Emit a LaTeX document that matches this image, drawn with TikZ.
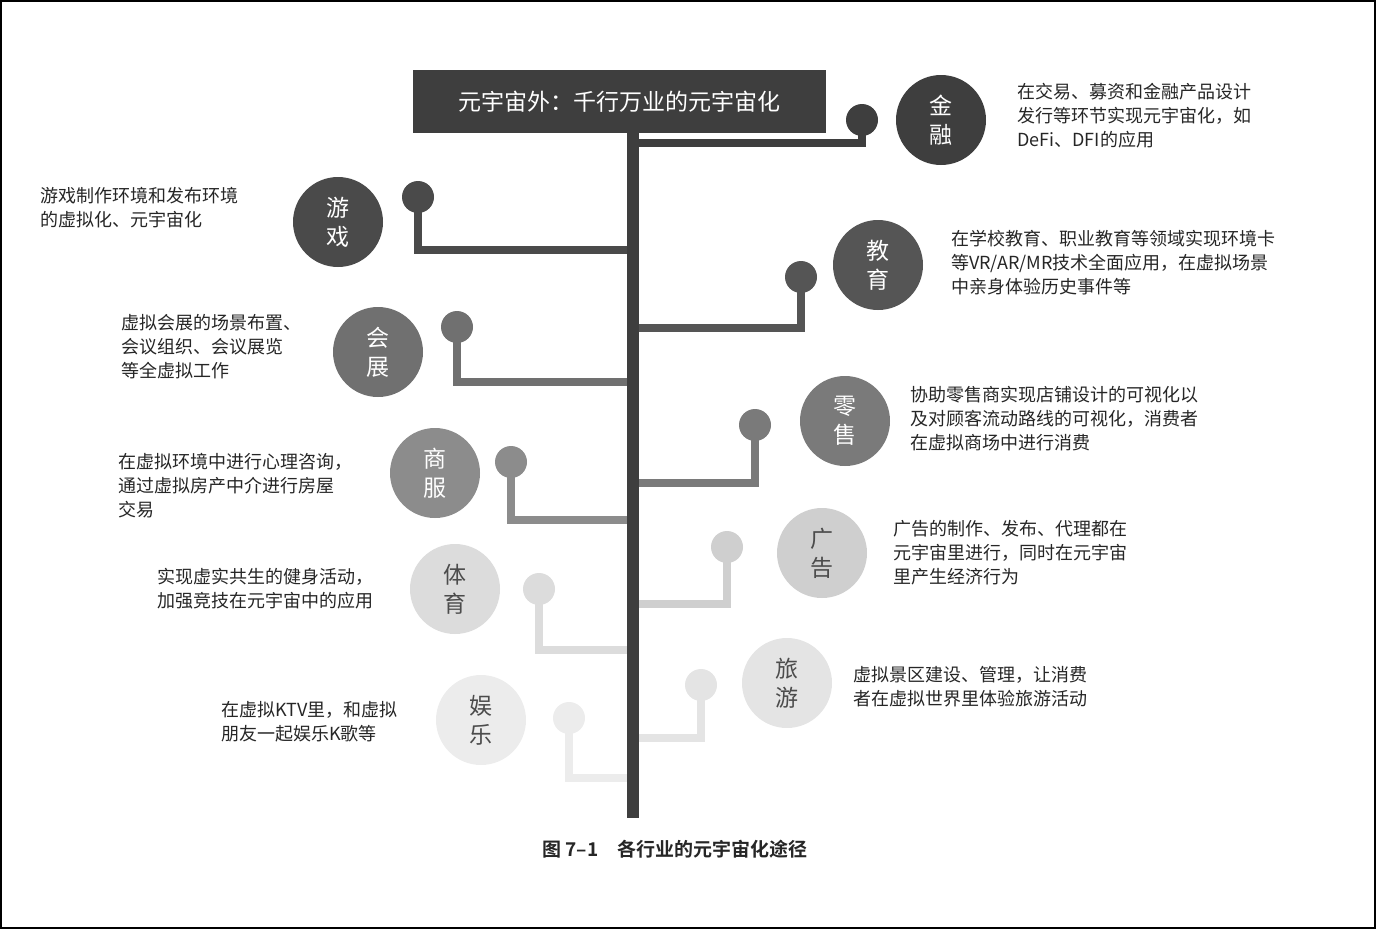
\documentclass[tikz,border=0pt]{standalone}
\usepackage{fontspec}
\setmainfont{Noto Sans CJK SC}
\newfontfamily\cjkb{Noto Sans CJK SC}[BoldFont={* Bold}]
\begin{document}
\begin{tikzpicture}[x=1pt,y=-1pt,
  desc/.style={anchor=west,align=left,font=\fontsize{18}{24}\selectfont,text=black!85,inner sep=0},
  circ/.style={circle,minimum size=90pt,inner sep=0,align=center,font=\fontsize{23}{29}\selectfont},
  dot/.style={circle,minimum size=32pt,inner sep=0},
  br/.style={line width=8pt}]
\useasboundingbox (0,0) rectangle (1376,929);
\draw[line width=2pt] (1,1) rectangle (1375,928);
\definecolor{c1}{HTML}{3E3E3E}\definecolor{c2}{HTML}{4A4A4A}\definecolor{c3}{HTML}{555555}
\definecolor{c4}{HTML}{707070}\definecolor{c5}{HTML}{7A7A7A}\definecolor{c6}{HTML}{8C8C8C}
\definecolor{c7}{HTML}{CFCFCF}\definecolor{c8}{HTML}{DCDCDC}\definecolor{c9}{HTML}{E4E4E4}\definecolor{c10}{HTML}{ECECEC}
\coordinate (top) at (633,133); \coordinate (bot) at (633,818);
\foreach \name/\cx/\cy/\dx/\dy/\ly/\col/\tc/\lab in {
 jr/941/120/862/120/143/c1/white/金\\融,
 yx/338/222/418/197/250/c2/white/游\\戏,
 jy/878/265/801/277/328/c3/white/教\\育,
 hz/378/352/457/327/382/c4/white/会\\展,
 ls/845/421/755/425/483/c5/white/零\\售,
 sf/435/473/511/462/520/c6/white/商\\服,
 gg/822/553/727/547/604/c7/black!70/广\\告,
 ty/455/589/539/589/650/c8/black!70/体\\育,
 ly/787/683/701/685/738/c9/black!70/旅\\游,
 yl/481/720/569/718/778/c10/black!70/娱\\乐}{
 \node[circ,fill=\col,text=\tc] (\name) at (\cx,\cy) {\lab};
 \coordinate (\name j) at (633,\ly);
 \draw[br,\col] (\dx,\dy) |- (\name j);
 \node[dot,fill=\col] (\name d) at (\dx,\dy) {};
}
\draw[line width=12pt,c1] (top) -- (bot);
\node[fill=c1,minimum width=413pt,minimum height=63pt,text=white,font=\fontsize{23}{28}\selectfont] (title) at (619.5,101.5) {元宇宙外：千行万业的元宇宙化};
\node[desc] at (1017,116) {在交易、募资和金融产品设计\\发行等环节实现元宇宙化，如\\DeFi、DFI的应用};
\node[desc] at (40,208) {游戏制作环境和发布环境\\的虚拟化、元宇宙化};
\node[desc] at (951,263) {在学校教育、职业教育等领域实现环境卡\\等VR/AR/MR技术全面应用，在虚拟场景\\中亲身体验历史事件等};
\node[desc] at (121,347) {虚拟会展的场景布置、\\会议组织、会议展览\\等全虚拟工作};
\node[desc] at (910,419) {协助零售商实现店铺设计的可视化以\\及对顾客流动路线的可视化，消费者\\在虚拟商场中进行消费};
\node[desc] at (118,486) {在虚拟环境中进行心理咨询，\\通过虚拟房产中介进行房屋\\交易};
\node[desc] at (893,553) {广告的制作、发布、代理都在\\元宇宙里进行，同时在元宇宙\\里产生经济行为};
\node[desc] at (157,589) {实现虚实共生的健身活动，\\加强竞技在元宇宙中的应用};
\node[desc] at (853,687) {虚拟景区建设、管理，让消费\\者在虚拟世界里体验旅游活动};
\node[desc] at (221,722) {在虚拟KTV里，和虚拟\\朋友一起娱乐K歌等};
\node[font=\cjkb\bfseries\fontsize{19}{24}\selectfont,text=black!85] (cap) at (675,849) {图 7–1\quad 各行业的元宇宙化途径};
\end{tikzpicture}
\end{document}
